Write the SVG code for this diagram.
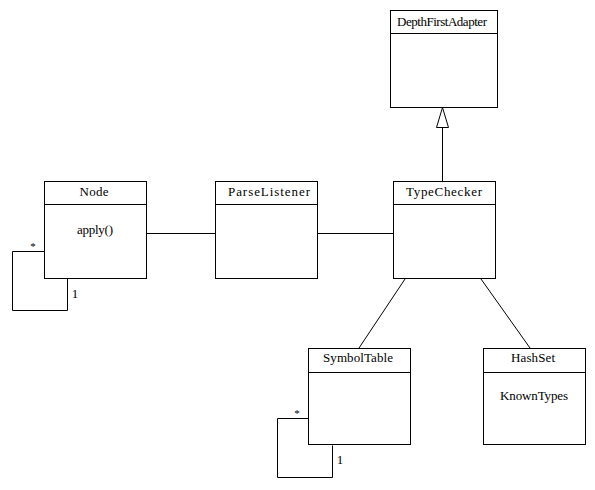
<svg xmlns="http://www.w3.org/2000/svg" width="595" height="490" viewBox="0 0 595 490">
<style>
.box{fill:#fff;stroke:#000;stroke-width:1}
.ln{fill:none;stroke:#000;stroke-width:1}
text{font-family:"Liberation Serif","Times New Roman",serif;font-size:13px;fill:#000}
.c{text-anchor:middle}
.s{font-size:11px}
</style>
<rect width="595" height="490" fill="#fff"/>
<g id="connectors">
<line class="ln" x1="146.5" y1="233.5" x2="215.5" y2="233.5"/>
<line class="ln" x1="317.5" y1="233.5" x2="393.5" y2="233.5"/>
<line class="ln" x1="442.5" y1="127" x2="442.5" y2="181.5"/>
<polygon points="442.5,107.5 436.5,127.5 448.5,127.5" fill="#fff" stroke="#000"/>
<line class="ln" x1="405" y1="279" x2="359" y2="348"/>
<line class="ln" x1="481" y1="279" x2="530" y2="348"/>
<polyline class="ln" points="44.5,251.5 12.5,251.5 12.5,310.5 67.5,310.5 67.5,278.5"/>
<text x="33" y="250" class="c s">*</text>
<text x="75" y="298" class="c">1</text>
<polyline class="ln" points="308.5,418.5 277.5,418.5 277.5,477.5 332.5,477.5 332.5,445.5"/>
<text x="297" y="417" class="c s">*</text>
<text x="340" y="464" class="c">1</text>
</g>
<g id="Node">
<rect class="box" x="44.5" y="181.5" width="102" height="97"/>
<line class="ln" x1="44.5" y1="204.5" x2="146.5" y2="204.5"/>
<text x="94" y="196" class="c" textLength="29">Node</text>
<text x="95" y="234" class="c" textLength="36">apply()</text>
</g>
<g id="ParseListener">
<rect class="box" x="215.5" y="181.5" width="102" height="97"/>
<line class="ln" x1="215.5" y1="204.5" x2="317.5" y2="204.5"/>
<text x="269" y="196" class="c" textLength="82">ParseListener</text>
</g>
<g id="TypeChecker">
<rect class="box" x="393.5" y="181.5" width="102" height="97"/>
<line class="ln" x1="393.5" y1="204.5" x2="495.5" y2="204.5"/>
<text x="444" y="196" class="c" textLength="76">TypeChecker</text>
</g>
<g id="DepthFirstAdapter">
<rect class="box" x="390.5" y="10.5" width="107" height="97"/>
<line class="ln" x1="390.5" y1="33.5" x2="497.5" y2="33.5"/>
<text x="442" y="26" class="c" textLength="90">DepthFirstAdapter</text>
</g>
<g id="SymbolTable">
<rect class="box" x="308.5" y="348.5" width="102" height="96"/>
<line class="ln" x1="308.5" y1="372.5" x2="410.5" y2="372.5"/>
<text x="358" y="362" class="c" textLength="70">SymbolTable</text>
</g>
<g id="HashSet">
<rect class="box" x="483.5" y="348.5" width="102" height="96"/>
<line class="ln" x1="483.5" y1="372.5" x2="585.5" y2="372.5"/>
<text x="533" y="362" class="c" textLength="44">HashSet</text>
<text x="534" y="400" class="c" textLength="68">KnownTypes</text>
</g>
</svg>
